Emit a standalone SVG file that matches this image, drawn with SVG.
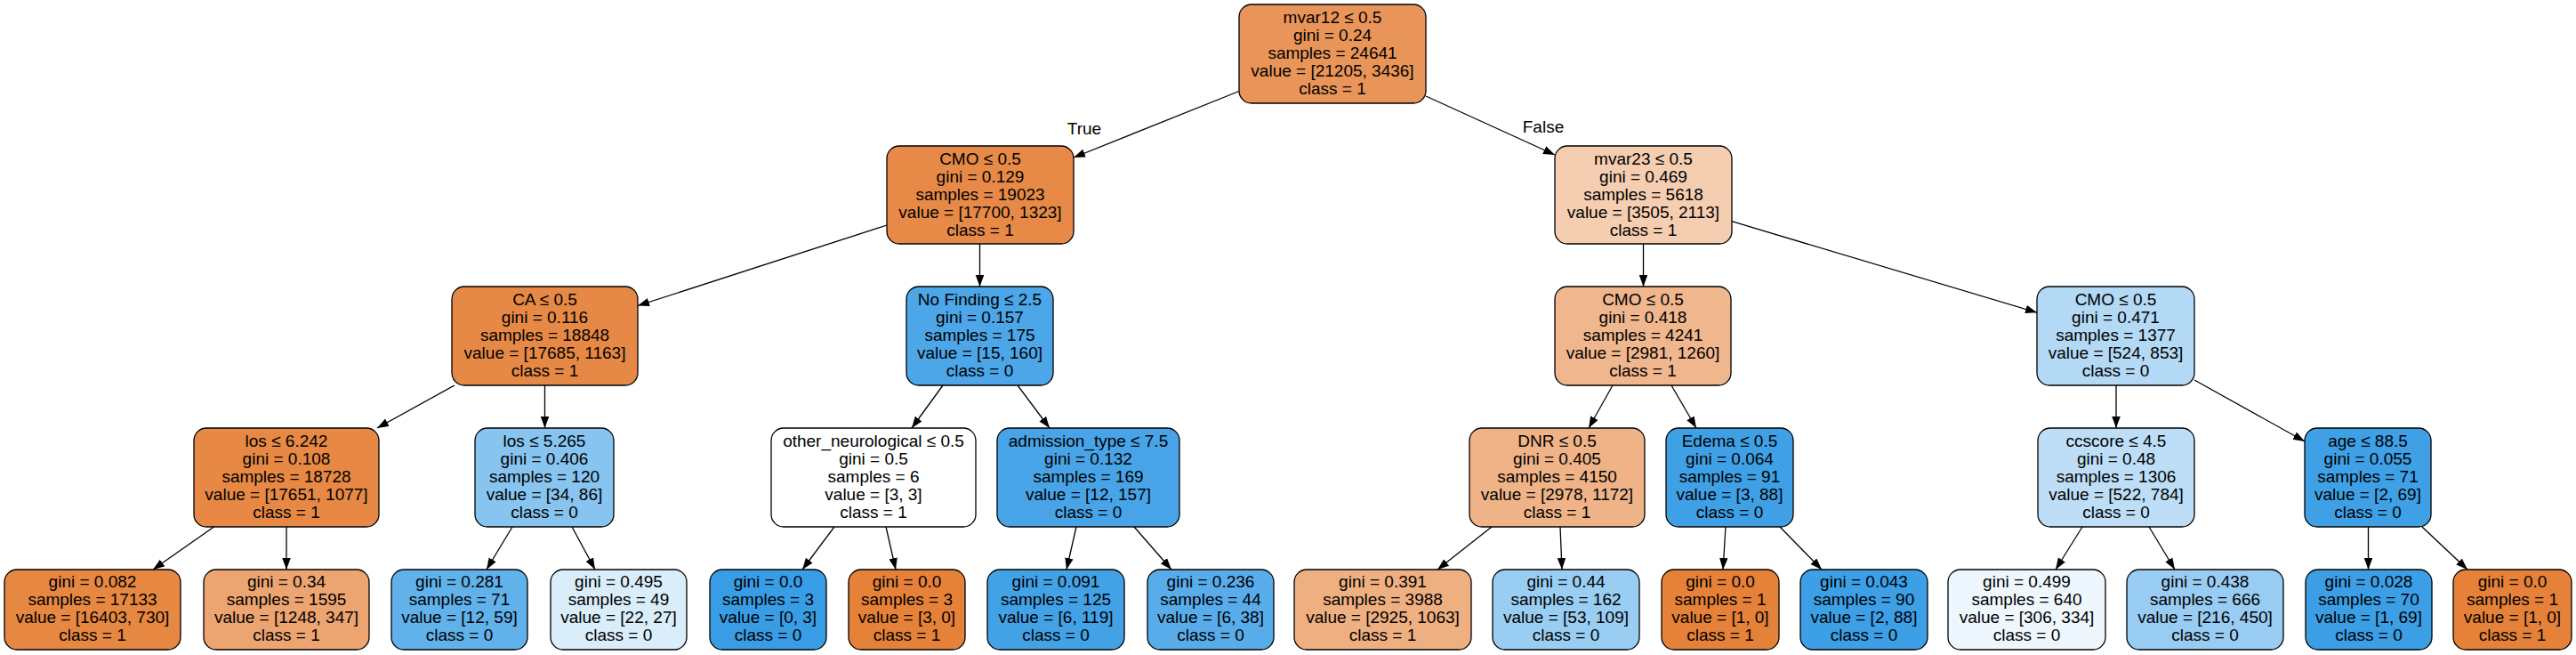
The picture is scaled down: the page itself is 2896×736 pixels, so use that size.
<svg xmlns="http://www.w3.org/2000/svg" width="2896" height="736" viewBox="0 0 2896 736">
<defs>
<marker id="arr" markerUnits="userSpaceOnUse" markerWidth="14" markerHeight="10" refX="13" refY="4.75" orient="auto">
<path d="M0,0 L13,4.75 L0,9.5 z" fill="#000"/>
</marker>
<style>
.nd rect{stroke:#000;stroke-width:1.3}
.nd text{font-family:"Liberation Sans",Arial,sans-serif;font-size:19px;fill:#000;text-anchor:middle}
.lbl{font-family:"Liberation Sans",Arial,sans-serif;font-size:19px;fill:#000;text-anchor:middle}
#edges line{stroke:#000;stroke-width:1.3;marker-end:url(#arr)}
</style>
</defs>
<rect width="2896" height="736" fill="#fff"/>
<g id="edges">
<line x1="1393" y1="102.5" x2="1207" y2="177"/>
<line x1="1603" y1="108" x2="1748" y2="174"/>
<line x1="997" y1="253" x2="717" y2="343.5"/>
<line x1="1101.5" y1="274" x2="1101.5" y2="322"/>
<line x1="1847.5" y1="274" x2="1847.5" y2="322"/>
<line x1="1947" y1="248.7" x2="2290" y2="351.2"/>
<line x1="511" y1="433" x2="424" y2="481"/>
<line x1="612.5" y1="433" x2="612.5" y2="481"/>
<line x1="1060" y1="433" x2="1025" y2="481"/>
<line x1="1144" y1="433" x2="1180" y2="481"/>
<line x1="1813" y1="433" x2="1786" y2="481"/>
<line x1="1879" y1="433" x2="1907" y2="481"/>
<line x1="2379" y1="433" x2="2379" y2="481"/>
<line x1="2467" y1="427" x2="2591" y2="496"/>
<line x1="240.5" y1="592" x2="172" y2="640"/>
<line x1="322" y1="592" x2="322" y2="640"/>
<line x1="576" y1="592" x2="547" y2="640"/>
<line x1="643" y1="592" x2="669" y2="640"/>
<line x1="938" y1="592" x2="902" y2="640"/>
<line x1="996" y1="592" x2="1007" y2="640"/>
<line x1="1210" y1="592" x2="1199" y2="640"/>
<line x1="1275" y1="592" x2="1317" y2="640"/>
<line x1="1677" y1="592" x2="1616" y2="640"/>
<line x1="1754" y1="592" x2="1756" y2="640"/>
<line x1="1940" y1="592" x2="1937" y2="640"/>
<line x1="2001" y1="592" x2="2048" y2="640"/>
<line x1="2341" y1="592" x2="2311" y2="640"/>
<line x1="2416" y1="592" x2="2445" y2="640"/>
<line x1="2662.5" y1="592" x2="2662.5" y2="640"/>
<line x1="2723" y1="592" x2="2774" y2="640"/>
</g>
<text class="lbl" x="1219" y="151">True</text>
<text class="lbl" x="1735" y="149">False</text>

<g id="n0" class="nd"><rect x="1393" y="5" width="210" height="111" rx="14" fill="#e99559"/>
<text x="1498" y="26">mvar12 ≤ 0.5</text><text x="1498" y="46">gini = 0.24</text><text x="1498" y="66">samples = 24641</text><text x="1498" y="86">value = [21205, 3436]</text><text x="1498" y="106">class = 1</text></g>

<g id="n1" class="nd"><rect x="997" y="164" width="210" height="110" rx="14" fill="#e78a48"/>
<text x="1102" y="185">CMO ≤ 0.5</text><text x="1102" y="205">gini = 0.129</text><text x="1102" y="225">samples = 19023</text><text x="1102" y="245">value = [17700, 1323]</text><text x="1102" y="265">class = 1</text></g>

<g id="n2" class="nd"><rect x="1748" y="164" width="199" height="110" rx="14" fill="#f5cdb0"/>
<text x="1847.5" y="185">mvar23 ≤ 0.5</text><text x="1847.5" y="205">gini = 0.469</text><text x="1847.5" y="225">samples = 5618</text><text x="1847.5" y="245">value = [3505, 2113]</text><text x="1847.5" y="265">class = 1</text></g>

<g id="n3" class="nd"><rect x="508" y="322" width="209" height="111" rx="14" fill="#e78946"/>
<text x="612.5" y="343">CA ≤ 0.5</text><text x="612.5" y="363">gini = 0.116</text><text x="612.5" y="383">samples = 18848</text><text x="612.5" y="403">value = [17685, 1163]</text><text x="612.5" y="423">class = 1</text></g>

<g id="n4" class="nd"><rect x="1019" y="322" width="165" height="111" rx="14" fill="#4ca6e7"/>
<text x="1101.5" y="343">No Finding ≤ 2.5</text><text x="1101.5" y="363">gini = 0.157</text><text x="1101.5" y="383">samples = 175</text><text x="1101.5" y="403">value = [15, 160]</text><text x="1101.5" y="423">class = 0</text></g>

<g id="n5" class="nd"><rect x="1748" y="322" width="198" height="111" rx="14" fill="#f0b68d"/>
<text x="1847" y="343">CMO ≤ 0.5</text><text x="1847" y="363">gini = 0.418</text><text x="1847" y="383">samples = 4241</text><text x="1847" y="403">value = [2981, 1260]</text><text x="1847" y="423">class = 1</text></g>

<g id="n6" class="nd"><rect x="2290" y="322" width="177" height="111" rx="14" fill="#b3d9f5"/>
<text x="2378.5" y="343">CMO ≤ 0.5</text><text x="2378.5" y="363">gini = 0.471</text><text x="2378.5" y="383">samples = 1377</text><text x="2378.5" y="403">value = [524, 853]</text><text x="2378.5" y="423">class = 0</text></g>

<g id="n7" class="nd"><rect x="218" y="481" width="208" height="111" rx="14" fill="#e78945"/>
<text x="322" y="502">los ≤ 6.242</text><text x="322" y="522">gini = 0.108</text><text x="322" y="542">samples = 18728</text><text x="322" y="562">value = [17651, 1077]</text><text x="322" y="582">class = 1</text></g>

<g id="n8" class="nd"><rect x="534" y="481" width="156" height="111" rx="14" fill="#87c4ef"/>
<text x="612" y="502">los ≤ 5.265</text><text x="612" y="522">gini = 0.406</text><text x="612" y="542">samples = 120</text><text x="612" y="562">value = [34, 86]</text><text x="612" y="582">class = 0</text></g>

<g id="n9" class="nd"><rect x="867" y="481" width="230" height="111" rx="14" fill="#ffffff"/>
<text x="982" y="502">other_neurological ≤ 0.5</text><text x="982" y="522">gini = 0.5</text><text x="982" y="542">samples = 6</text><text x="982" y="562">value = [3, 3]</text><text x="982" y="582">class = 1</text></g>

<g id="n10" class="nd"><rect x="1121" y="481" width="205" height="111" rx="14" fill="#48a4e7"/>
<text x="1223.5" y="502">admission_type ≤ 7.5</text><text x="1223.5" y="522">gini = 0.132</text><text x="1223.5" y="542">samples = 169</text><text x="1223.5" y="562">value = [12, 157]</text><text x="1223.5" y="582">class = 0</text></g>

<g id="n11" class="nd"><rect x="1652" y="481" width="197" height="111" rx="14" fill="#efb387"/>
<text x="1750.5" y="502">DNR ≤ 0.5</text><text x="1750.5" y="522">gini = 0.405</text><text x="1750.5" y="542">samples = 4150</text><text x="1750.5" y="562">value = [2978, 1172]</text><text x="1750.5" y="582">class = 1</text></g>

<g id="n12" class="nd"><rect x="1873" y="481" width="143" height="111" rx="14" fill="#40a0e6"/>
<text x="1944.5" y="502">Edema ≤ 0.5</text><text x="1944.5" y="522">gini = 0.064</text><text x="1944.5" y="542">samples = 91</text><text x="1944.5" y="562">value = [3, 88]</text><text x="1944.5" y="582">class = 0</text></g>

<g id="n13" class="nd"><rect x="2291" y="481" width="176" height="111" rx="14" fill="#bddef6"/>
<text x="2379" y="502">ccscore ≤ 4.5</text><text x="2379" y="522">gini = 0.48</text><text x="2379" y="542">samples = 1306</text><text x="2379" y="562">value = [522, 784]</text><text x="2379" y="582">class = 0</text></g>

<g id="n14" class="nd"><rect x="2591" y="481" width="142" height="111" rx="14" fill="#3fa0e6"/>
<text x="2662" y="502">age ≤ 88.5</text><text x="2662" y="522">gini = 0.055</text><text x="2662" y="542">samples = 71</text><text x="2662" y="562">value = [2, 69]</text><text x="2662" y="582">class = 0</text></g>

<g id="n15" class="nd"><rect x="5" y="640" width="198" height="90" rx="14" fill="#e68742"/>
<text x="104" y="660">gini = 0.082</text><text x="104" y="680">samples = 17133</text><text x="104" y="700">value = [16403, 730]</text><text x="104" y="720">class = 1</text></g>

<g id="n16" class="nd"><rect x="229" y="640" width="186" height="90" rx="14" fill="#eca470"/>
<text x="322" y="660">gini = 0.34</text><text x="322" y="680">samples = 1595</text><text x="322" y="700">value = [1248, 347]</text><text x="322" y="720">class = 1</text></g>

<g id="n17" class="nd"><rect x="440" y="640" width="153" height="90" rx="14" fill="#61b1ea"/>
<text x="516.5" y="660">gini = 0.281</text><text x="516.5" y="680">samples = 71</text><text x="516.5" y="700">value = [12, 59]</text><text x="516.5" y="720">class = 0</text></g>

<g id="n18" class="nd"><rect x="619" y="640" width="153" height="90" rx="14" fill="#daedfa"/>
<text x="695.5" y="660">gini = 0.495</text><text x="695.5" y="680">samples = 49</text><text x="695.5" y="700">value = [22, 27]</text><text x="695.5" y="720">class = 0</text></g>

<g id="n19" class="nd"><rect x="798" y="640" width="131" height="90" rx="14" fill="#399de5"/>
<text x="863.5" y="660">gini = 0.0</text><text x="863.5" y="680">samples = 3</text><text x="863.5" y="700">value = [0, 3]</text><text x="863.5" y="720">class = 0</text></g>

<g id="n20" class="nd"><rect x="954" y="640" width="131" height="90" rx="14" fill="#e58139"/>
<text x="1019.5" y="660">gini = 0.0</text><text x="1019.5" y="680">samples = 3</text><text x="1019.5" y="700">value = [3, 0]</text><text x="1019.5" y="720">class = 1</text></g>

<g id="n21" class="nd"><rect x="1110" y="640" width="154" height="90" rx="14" fill="#43a2e6"/>
<text x="1187" y="660">gini = 0.091</text><text x="1187" y="680">samples = 125</text><text x="1187" y="700">value = [6, 119]</text><text x="1187" y="720">class = 0</text></g>

<g id="n22" class="nd"><rect x="1290" y="640" width="142" height="90" rx="14" fill="#58ace9"/>
<text x="1361" y="660">gini = 0.236</text><text x="1361" y="680">samples = 44</text><text x="1361" y="700">value = [6, 38]</text><text x="1361" y="720">class = 0</text></g>

<g id="n23" class="nd"><rect x="1455" y="640" width="199" height="90" rx="14" fill="#eeaf81"/>
<text x="1554.5" y="660">gini = 0.391</text><text x="1554.5" y="680">samples = 3988</text><text x="1554.5" y="700">value = [2925, 1063]</text><text x="1554.5" y="720">class = 1</text></g>

<g id="n24" class="nd"><rect x="1678" y="640" width="165" height="90" rx="14" fill="#99cdf2"/>
<text x="1760.5" y="660">gini = 0.44</text><text x="1760.5" y="680">samples = 162</text><text x="1760.5" y="700">value = [53, 109]</text><text x="1760.5" y="720">class = 0</text></g>

<g id="n25" class="nd"><rect x="1868" y="640" width="132" height="90" rx="14" fill="#e58139"/>
<text x="1934" y="660">gini = 0.0</text><text x="1934" y="680">samples = 1</text><text x="1934" y="700">value = [1, 0]</text><text x="1934" y="720">class = 1</text></g>

<g id="n26" class="nd"><rect x="2024" y="640" width="143" height="90" rx="14" fill="#3d9fe6"/>
<text x="2095.5" y="660">gini = 0.043</text><text x="2095.5" y="680">samples = 90</text><text x="2095.5" y="700">value = [2, 88]</text><text x="2095.5" y="720">class = 0</text></g>

<g id="n27" class="nd"><rect x="2190" y="640" width="177" height="90" rx="14" fill="#eef7fd"/>
<text x="2278.5" y="660">gini = 0.499</text><text x="2278.5" y="680">samples = 640</text><text x="2278.5" y="700">value = [306, 334]</text><text x="2278.5" y="720">class = 0</text></g>

<g id="n28" class="nd"><rect x="2391" y="640" width="176" height="90" rx="14" fill="#98ccf2"/>
<text x="2479" y="660">gini = 0.438</text><text x="2479" y="680">samples = 666</text><text x="2479" y="700">value = [216, 450]</text><text x="2479" y="720">class = 0</text></g>

<g id="n29" class="nd"><rect x="2592" y="640" width="142" height="90" rx="14" fill="#3c9ee5"/>
<text x="2663" y="660">gini = 0.028</text><text x="2663" y="680">samples = 70</text><text x="2663" y="700">value = [1, 69]</text><text x="2663" y="720">class = 0</text></g>

<g id="n30" class="nd"><rect x="2758" y="640" width="133" height="90" rx="14" fill="#e58139"/>
<text x="2824.5" y="660">gini = 0.0</text><text x="2824.5" y="680">samples = 1</text><text x="2824.5" y="700">value = [1, 0]</text><text x="2824.5" y="720">class = 1</text></g>
</svg>
